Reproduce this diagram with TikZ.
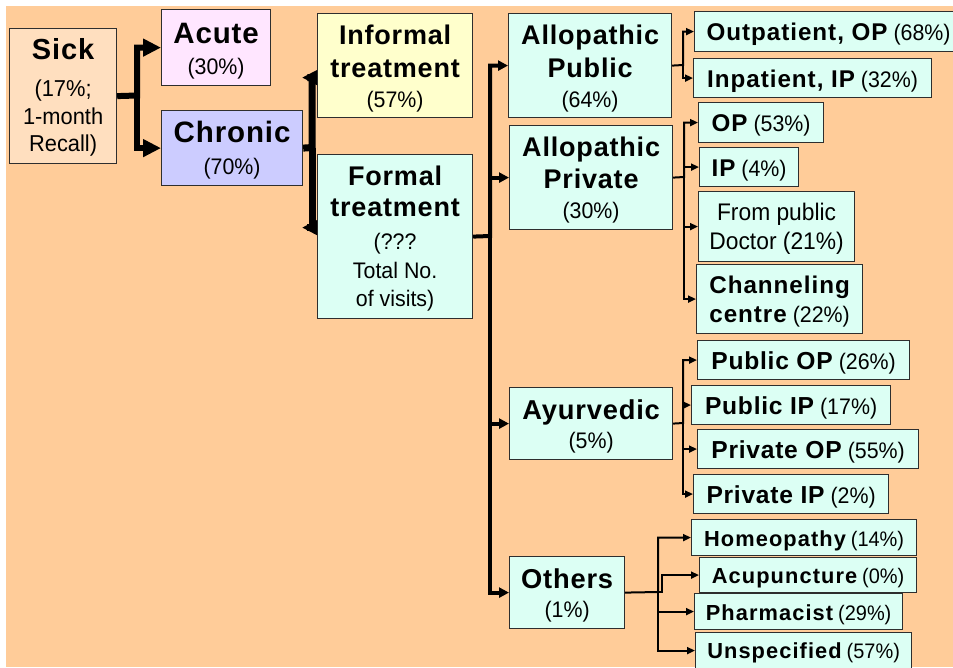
\documentclass[tikz,border=0pt]{standalone}
\usepackage{fontspec}
\setmainfont{Liberation Sans}
\newfontfamily\tb{Liberation Sans}
\newfontfamily\pf{Liberation Sans}[FakeStretch=0.95]
\usetikzlibrary{arrows.meta}
\definecolor{bgc}{HTML}{FFCC99}
\definecolor{sickc}{HTML}{FFDFBF}
\definecolor{acutec}{HTML}{FFE6FF}
\definecolor{chronc}{HTML}{CCCCFF}
\definecolor{infc}{HTML}{FFFFCC}
\definecolor{mintc}{HTML}{DCFFF4}
\definecolor{bdc}{HTML}{2E2E2E}
\newcommand\T[3]{{\fontsize{#1}{#1}\selectfont\tb\bfseries\addfontfeatures{LetterSpace=#2}#3}}
\newcommand\pc[2]{{\fontsize{#1}{#1}\selectfont\pf #2}}
\newcommand\stk[3]{{\fontsize{#1}{#2}\selectfont\pf\begin{tabular}[t]{@{}c@{}}#3\end{tabular}}}
\tikzset{
  box/.style={draw=bdc, line width=1.2pt, inner sep=0pt, anchor=north west},
  geo/.style n args={3}{minimum width=#1pt, text height=#2pt, text depth=#3pt},
  aone/.style={line width=6pt, -{Triangle[length=18pt,width=17pt]}},
  atwo/.style={line width=7pt, -{Triangle[reversed,length=15pt,width=14pt]}},
  athree/.style={line width=4pt, -{Triangle[length=10pt,width=10pt]}},
  afour/.style={line width=2pt, -{Triangle[length=8pt,width=7pt]}}
}
\begin{document}
\begin{tikzpicture}[x=1pt,y=-1pt]
\useasboundingbox (0,0) rectangle (953,667);
\fill[white] (0,0) rectangle (953,667);
\fill[bgc] (6,6) rectangle (953,667);
% level 0-1
\node[box, fill=sickc, geo={107}{31}{104}] (sick) at (9,28)
  {\stk{23}{27.5}{\T{29}{3}{Sick}\\[9.5pt] (17\%;\\ 1-month\\ Recall)}};
\node[box, fill=acutec, geo={109}{34}{42}] (acute) at (161,9)
  {\stk{22.5}{31}{\T{29.5}{3}{Acute}\\ (30\%)}};
\node[box, fill=chronc, geo={141}{32}{43}] (chronic) at (161,110)
  {\stk{22.5}{32}{\T{29.5}{3}{Chronic}\\ (70\%)}};
% level 2
\node[box, fill=infc, geo={155}{31}{73}] (informal) at (317,13)
  {\stk{22.5}{30}{\T{27}{3}{Informal}\\[3pt] \T{27}{3}{treatment}\\ (57\%)}};
\node[box, fill=mintc, geo={155}{31}{133}] (formal) at (317,154)
  {\stk{22.5}{29}{\T{27}{3}{Formal}\\[2pt] \T{27}{3}{treatment}\\[4pt] (???\\ Total No.\\[-1pt] of visits)}};
% level 3
\node[box, fill=mintc, geo={163}{31}{73}] (apub) at (508,13)
  {\stk{22.5}{30}{\T{27}{3}{Allopathic}\\[3pt] \T{27}{3}{Public}\\ (64\%)}};
\node[box, fill=mintc, geo={163}{31}{73}] (apriv) at (509,125)
  {\stk{22.5}{30}{\T{27}{3}{Allopathic}\\[2pt] \T{27}{3}{Private}\\ (30\%)}};
\node[box, fill=mintc, geo={163}{32}{40}] (ayur) at (509,387)
  {\stk{22.5}{29}{\T{27.3}{3}{Ayurvedic}\\ (5\%)}};
\node[box, fill=mintc, geo={115}{32}{40}] (others) at (509,556)
  {\stk{22.5}{29}{\T{27.3}{3}{Others}\\ (1\%)}};
% level 4: allopathic public
\node[box, fill=mintc, geo={268}{28.5}{11.5}] (outp) at (694,11)
  {\T{24.2}{4}{Outpatient, OP}\hspace{6pt}\pc{22.5}{(68\%)}};
\node[box, fill=mintc, geo={238}{28.5}{10.5}] (inp) at (693,58)
  {\T{24.2}{4}{Inpatient, IP}\hspace{6pt}\pc{22.5}{(32\%)}};
% allopathic private
\node[box, fill=mintc, geo={125}{28.5}{11.5}] (op) at (698,102)
  {\T{24.2}{4}{OP}\hspace{6pt}\pc{22.5}{(53\%)}};
\node[box, fill=mintc, geo={99}{28.5}{10.5}] (ip) at (699,147)
  {\T{24.2}{4}{IP}\hspace{6pt}\pc{22.5}{(4\%)}};
\node[box, fill=mintc, geo={156}{29}{41}] (frompub) at (698,191)
  {\stk{24}{29}{From public\\ Doctor (21\%)}};
\node[box, fill=mintc, geo={166}{29}{40}] (chan) at (696,264)
  {\stk{22.5}{29}{\T{24.2}{4}{Channeling}\\ \T{24.2}{4}{centre}\hspace{6pt}(22\%)}};
% ayurvedic
\node[box, fill=mintc, geo={212}{29}{10}] (pubop) at (697,340)
  {\T{24.6}{3}{Public OP}\hspace{6pt}\pc{22.5}{(26\%)}};
\node[box, fill=mintc, geo={199}{29}{10}] (pubip) at (691,385)
  {\T{24.6}{3}{Public IP}\hspace{6pt}\pc{22.5}{(17\%)}};
\node[box, fill=mintc, geo={221}{29}{10}] (privop) at (697,429)
  {\T{24.6}{3}{Private OP}\hspace{6pt}\pc{22.5}{(55\%)}};
\node[box, fill=mintc, geo={195}{29}{10}] (privip) at (693,474)
  {\T{24.6}{3}{Private IP}\hspace{6pt}\pc{22.5}{(2\%)}};
% others
\node[box, fill=mintc, geo={225}{27}{9}] (homeo) at (691,519)
  {\T{21.8}{5}{Homeopathy}\hspace{5pt}\pc{21}{(14\%)}};
\node[box, fill=mintc, geo={217}{26}{9}] (acu) at (699,557)
  {\T{21.8}{5}{Acupuncture}\hspace{5pt}\pc{21}{(0\%)}};
\node[box, fill=mintc, geo={208}{27}{9}] (pharm) at (694,593)
  {\T{21.8}{5}{Pharmacist}\hspace{5pt}\pc{21}{(29\%)}};
\node[box, fill=mintc, geo={216}{26}{10}] (unsp) at (695,632)
  {\T{21.8}{5}{Unspecified}\hspace{5pt}\pc{21}{(57\%)}};
% junctions
\coordinate (j1) at (137,95.5);
\coordinate (j2) at (312,147.5);
\coordinate (j3) at (490,236);
\coordinate (j4) at (683,65);
\coordinate (j5) at (684,177);
\coordinate (j6) at (683,423);
\coordinate (j7) at (658,592);
\coordinate (j8) at (662,592);
% connectors
\draw[aone] (sick.east) -- (j1) |- (acute.west);
\draw[aone] (j1) |- (chronic.west);
\draw[atwo] (chronic.east) -- (j2) |- ([yshift=-12pt]informal.west);
\draw[atwo] (j2) |- ([yshift=9pt]formal.west);
\draw[athree] (formal.east) -- (j3) |- (apub.west);
\draw[athree] (j3) |- (apriv.west);
\draw[athree] (j3) |- (ayur.west);
\draw[athree] (j3) |- (others.west);
\draw[afour] (apub.east) -- (j4) |- (outp.west);
\draw[afour] (j4) |- (inp.west);
\draw[afour] (apriv.east) -- (j5) |- (op.west);
\draw[afour] (j5) |- (ip.west);
\draw[afour] (j5) |- (frompub.west);
\draw[afour] (j5) |- (chan.west);
\draw[afour] (ayur.east) -- (j6) |- (pubop.west);
\draw[afour] (j6) |- (pubip.west);
\draw[afour] (j6) |- (privop.west);
\draw[afour] (j6) |- (privip.west);
\draw[afour] (others.east) -- (j7) |- (homeo.west);
\draw[afour] (j7) |- (pharm.west);
\draw[afour] (j7) |- (unsp.west);
\draw[afour] (j7) -- (j8) |- (acu.west);
\end{tikzpicture}
\end{document}
